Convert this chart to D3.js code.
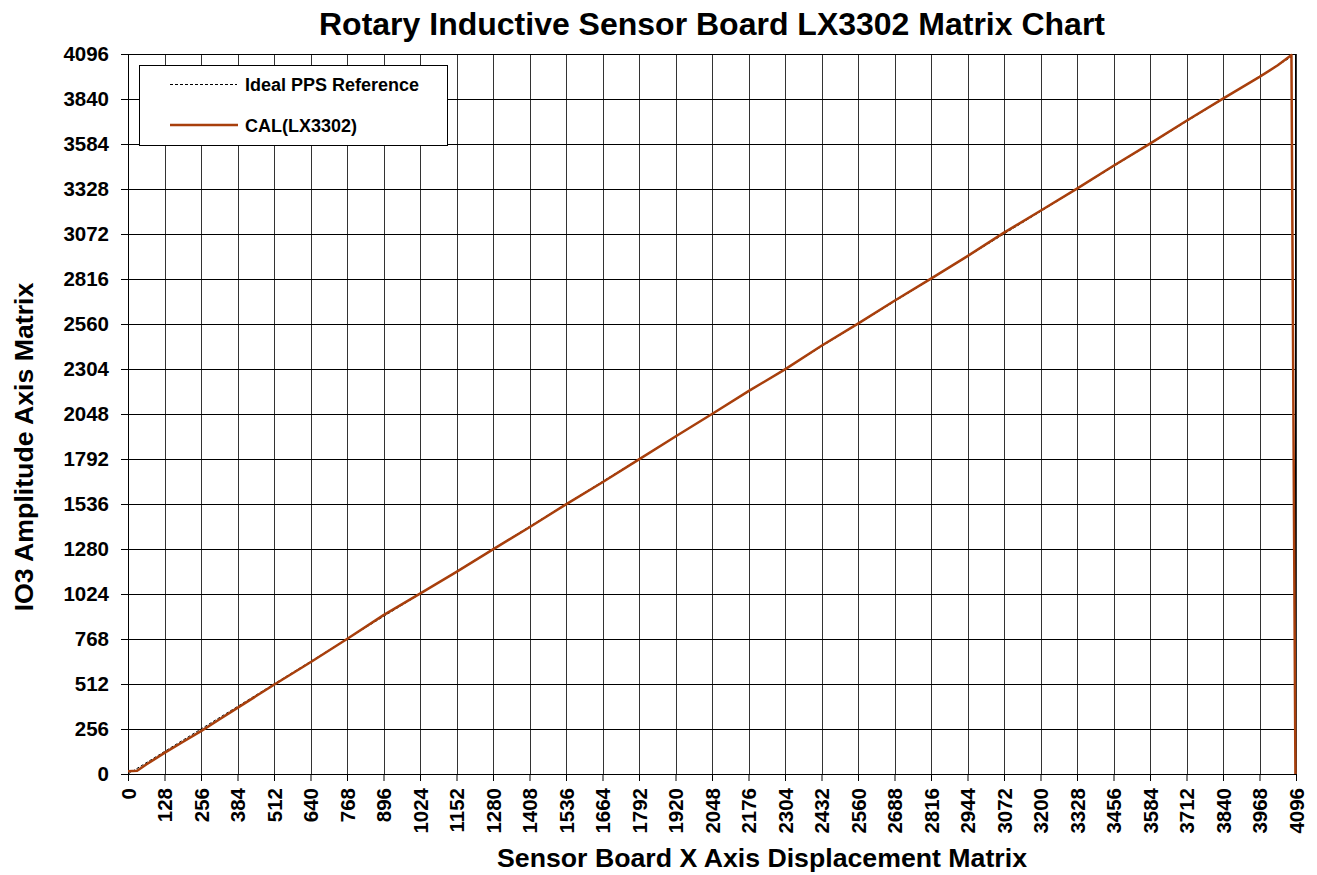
<!DOCTYPE html>
<html><head><meta charset="utf-8">
<script src="https://cdn.jsdelivr.net/npm/d3@7"></script>
<style>body{margin:0;background:#fff;} text{font-family:"Liberation Sans",Arial,sans-serif;font-weight:bold;}</style>
</head><body><svg id="c" width="1317" height="875"></svg>
<script>
const title = "Rotary Inductive Sensor Board LX3302 Matrix Chart";
const xTitle = "Sensor Board X Axis Displacement Matrix";
const yTitle = "IO3 Amplitude Axis Matrix";
const tickValues = [0,128,256,384,512,640,768,896,1024,1152,1280,1408,1536,1664,1792,1920,2048,2176,2304,2432,2560,2688,2816,2944,3072,3200,3328,3456,3584,3712,3840,3968,4096];
const yTickValues = [0,256,512,768,1024,1280,1536,1792,2048,2304,2560,2816,3072,3328,3584,3840,4096];
const seriesNames = ["Ideal PPS Reference","CAL(LX3302)"];
const idealX = [0,4080];
const idealY = [0,4080];
const calX = [0,32,64,128,192,256,320,384,448,512,640,768,896,1024,1152,1280,1408,1536,1664,1792,1920,2048,2176,2304,2432,2560,2688,2816,2944,3072,3200,3328,3456,3584,3712,3840,3968,4032,4080,4094];
const calY = [16,18,54,120,182,244,310,376,442,508,636,768,904,1026,1150,1278,1404,1534,1660,1790,1920,2048,2178,2302,2436,2562,2692,2818,2946,3080,3204,3330,3460,3586,3716,3842,3966,4032,4090,0];

const svg = d3.select("#c");
const L=128, R=1296, T=54, B=774;
const x = d3.scaleLinear().domain([0,4096]).range([L,R]);
const y = d3.scaleLinear().domain([0,4096]).range([B,T]);

// grid
svg.append("g").selectAll("line").data(tickValues).join("line")
  .attr("x1",d=>Math.round(x(d))+0.5).attr("x2",d=>Math.round(x(d))+0.5)
  .attr("y1",T).attr("y2",B).attr("stroke","#333").attr("stroke-width",1);
svg.append("g").selectAll("line").data(yTickValues).join("line")
  .attr("y1",d=>Math.round(y(d))+0.5).attr("y2",d=>Math.round(y(d))+0.5)
  .attr("x1",L).attr("x2",R).attr("stroke","#000").attr("stroke-width",1);

// axes
const xAxis = svg.append("g").attr("transform",`translate(0,${B})`)
  .call(d3.axisBottom(x).tickValues(tickValues).tickSize(7).tickFormat(d3.format("d")));
xAxis.select(".domain").remove();
xAxis.selectAll("line").attr("stroke","#000");
xAxis.selectAll("text").attr("font-size",20.5).attr("font-family","Liberation Sans, Arial, sans-serif")
  .attr("font-weight","bold").attr("fill","#000")
  .attr("transform","rotate(-90)").attr("text-anchor","end").attr("x",-14).attr("y",0).attr("dy","0.36em");
const yAxis = svg.append("g").attr("transform",`translate(${L},0)`)
  .call(d3.axisLeft(y).tickValues(yTickValues).tickSize(7).tickFormat(d3.format("d")));
yAxis.select(".domain").remove();
yAxis.selectAll("line").attr("stroke","#000");
yAxis.selectAll("text").attr("font-size",20.5).attr("font-family","Liberation Sans, Arial, sans-serif")
  .attr("font-weight","bold").attr("fill","#000").attr("x",-19).attr("dy","0.34em");

// frame
svg.append("rect").attr("x",L+0.5).attr("y",T+0.5).attr("width",R-L-1).attr("height",B-T)
  .attr("fill","none").attr("stroke","#000");

const line = d3.line().x(d=>x(d[0])).y(d=>y(d[1]));
svg.append("path").datum(idealX.map((v,i)=>[v,idealY[i]])).attr("d",line)
  .attr("fill","none").attr("stroke","#000").attr("stroke-width",1).attr("stroke-dasharray","3,2");
svg.append("path").datum(calX.map((v,i)=>[v,calY[i]])).attr("d",line)
  .attr("fill","none").attr("stroke","#A83F0C").attr("stroke-width",2.5).attr("stroke-linejoin","round");

// legend
const lg = svg.append("g");
lg.append("rect").attr("x",139.5).attr("y",65.5).attr("width",308).attr("height",80)
  .attr("fill","#fff").attr("stroke","#000");
lg.append("line").attr("x1",170).attr("x2",237).attr("y1",84.5).attr("y2",84.5)
  .attr("stroke","#000").attr("stroke-dasharray","3,2");
lg.append("line").attr("x1",170).attr("x2",238).attr("y1",125).attr("y2",125)
  .attr("stroke","#A83F0C").attr("stroke-width",2.5);
lg.append("text").attr("x",245).attr("y",90.5).attr("font-size",18).text(seriesNames[0]);
lg.append("text").attr("x",245).attr("y",131.5).attr("font-size",18).text(seriesNames[1]);

// titles
svg.append("text").attr("x",712).attr("y",35).attr("text-anchor","middle").attr("font-size",32).text(title);
svg.append("text").attr("x",762).attr("y",867).attr("text-anchor","middle").attr("font-size",26.7).text(xTitle);
svg.append("text").attr("transform","translate(33,447) rotate(-90)").attr("text-anchor","middle").attr("font-size",26.7).text(yTitle);
</script></body></html>
